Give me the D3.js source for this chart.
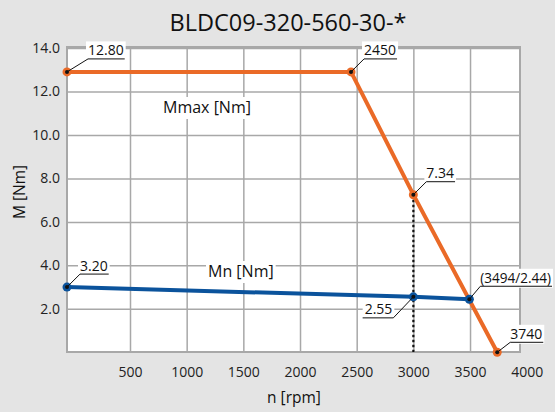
<!DOCTYPE html>
<html>
<head>
<meta charset="utf-8">
<script src="https://cdn.jsdelivr.net/npm/d3@7"></script>
<style>
  body { margin: 0; background: #e4e4e4; }
  svg { display: block; font-family: "Open Sans", sans-serif; }
</style>
</head>
<body>
<script>
// chart values
const xTicks = [500, 1000, 1500, 2000, 2500, 3000, 3500, 4000];
const yTicks = [2, 4, 6, 8, 10, 12, 14];

const mmaxSpeed = [0, 2450, 3000, 3740];
const mmaxTorque = [12.9, 12.9, 7.25, 0];
const mnSpeed = [0, 3000, 3494];
const mnTorque = [3.0, 2.55, 2.44];

// point labels
const labelText = ["12.80", "2450", "7.34", "3.20", "2.55", "(3494/2.44)", "3740"];
const labelSpeed = [0, 2450, 3000, 0, 3000, 3494, 3740];
const labelTorque = [12.9, 12.9, 7.25, 3.0, 2.55, 2.44, 0];
const labelDir = ["up", "up", "up", "up", "down", "up", "up"];

const width = 555, height = 412;
const plot = { left: 67, right: 520, top: 47, bottom: 352 };

const svg = d3.select("body").append("svg")
  .attr("width", width)
  .attr("height", height);

const x = d3.scaleLinear()
  .domain([0, 500, 4000])
  .range([plot.left, 130, 526.7]);

const y = d3.scaleLinear()
  .domain([0, 14])
  .range([352.3, 48]);

// plot area
svg.append("rect")
  .attr("x", plot.left).attr("y", plot.top)
  .attr("width", plot.right - plot.left)
  .attr("height", plot.bottom - plot.top)
  .attr("fill", "#fff");

// y axis + horizontal grid
const yAxis = d3.axisLeft(y)
  .tickValues(yTicks)
  .tickFormat(d3.format(".1f"))
  .tickSizeInner(-(plot.right - plot.left))
  .tickSizeOuter(0)
  .tickPadding(7);
const gy = svg.append("g")
  .attr("transform", `translate(${plot.left},0)`)
  .call(yAxis);
gy.select(".domain").remove();
gy.selectAll(".tick line").attr("stroke", "#a8a8a8").attr("stroke-width", 1.5);
gy.selectAll(".tick text").attr("font-size", 14).attr("fill", "#222")
  .attr("font-family", "Open Sans, sans-serif");

// x axis + vertical grid
const xAxis = d3.axisBottom(x)
  .tickValues(xTicks)
  .tickFormat(d3.format("d"))
  .tickSizeInner(-(plot.bottom - plot.top))
  .tickSizeOuter(0)
  .tickPadding(15);
const gx = svg.append("g")
  .attr("transform", `translate(0,${plot.bottom})`)
  .call(xAxis);
gx.select(".domain").remove();
gx.selectAll(".tick line")
  .attr("stroke", "#a8a8a8").attr("stroke-width", 1.5)
  .attr("display", d => x(d) > plot.right ? "none" : null);
gx.selectAll(".tick text").attr("font-size", 14).attr("fill", "#222")
  .attr("font-family", "Open Sans, sans-serif");

// plot border
svg.append("rect")
  .attr("x", plot.left).attr("y", plot.top)
  .attr("width", plot.right - plot.left)
  .attr("height", plot.bottom - plot.top)
  .attr("fill", "none")
  .attr("stroke", "#a8a8a8")
  .attr("stroke-width", 2);

// dotted line at 3000 rpm
svg.append("line")
  .attr("x1", x(3000)).attr("x2", x(3000))
  .attr("y1", y(mmaxTorque[2])).attr("y2", plot.bottom)
  .attr("stroke", "#111")
  .attr("stroke-width", 2.2)
  .attr("stroke-dasharray", "2.5,2.5");

const line = d3.line().x(d => x(d[0])).y(d => y(d[1]));
const series = [
  { pts: d3.zip(mmaxSpeed, mmaxTorque), color: "#ea6a27" },
  { pts: d3.zip(mnSpeed, mnTorque), color: "#0b539c" }
];

series.forEach(s => {
  svg.append("path")
    .attr("d", line(s.pts))
    .attr("fill", "none")
    .attr("stroke", s.color)
    .attr("stroke-width", 4)
    .attr("stroke-linejoin", "round");
  svg.selectAll(null)
    .data(s.pts)
    .enter().append("circle")
    .attr("cx", d => x(d[0]))
    .attr("cy", d => y(d[1]))
    .attr("r", 4.5)
    .attr("fill", s.color);
});

// text with white background, squeezed if wider than maxW
function boxedText(g, tx, ty, str, size, anchor, maxW) {
  const t = g.append("text")
    .attr("x", tx).attr("y", ty)
    .attr("font-size", size)
    .attr("fill", "#111")
    .attr("text-anchor", anchor || "start")
    .text(str);
  if (maxW && t.node().getComputedTextLength() > maxW) {
    t.attr("textLength", maxW).attr("lengthAdjust", "spacingAndGlyphs");
  }
  const b = t.node().getBBox();
  g.insert("rect", () => t.node())
    .attr("x", b.x - 2).attr("y", b.y + 1)
    .attr("width", b.width + 4).attr("height", b.height)
    .attr("fill", "#fff");
  return t;
}

// point annotations
const annot = svg.append("g");
labelText.forEach((str, i) => {
  const px = x(labelSpeed[i]), py = y(labelTorque[i]);
  const g = annot.append("g");
  let ex, ey, ux1, ux2;
  if (labelDir[i] === "up") {
    ex = px + (i === 0 ? 21 : (i === 5 ? 11 : 13)); ey = py - (i === 6 ? 10 : 13);
    const t = boxedText(g, ex, ey - 3.5, str, 14, "start", 551 - ex);
    const w = t.node().getBBox().width;
    ux1 = ex; ux2 = ex + w + 1;
  } else {
    ex = px - 20; ey = py + 21;
    const t = boxedText(g, ex - 1, ey - 3.5, str, 14, "end");
    const w = t.node().getBBox().width;
    ux1 = ex - w - 3; ux2 = ex;
  }
  g.append("line")
    .attr("x1", px).attr("y1", py).attr("x2", ex).attr("y2", ey)
    .attr("stroke", "#111").attr("stroke-width", 1);
  g.append("line")
    .attr("x1", ux1).attr("x2", ux2).attr("y1", ey).attr("y2", ey)
    .attr("stroke", "#111").attr("stroke-width", 1);
  g.append("circle")
    .attr("cx", px).attr("cy", py).attr("r", 2)
    .attr("fill", "#111");
});

// series names
boxedText(svg, 163, 113, "Mmax [Nm]", 16);
boxedText(svg, 208, 277, "Mn [Nm]", 16);

// titles
svg.append("text")
  .attr("x", 288).attr("y", 31)
  .attr("text-anchor", "middle")
  .attr("font-size", 23.5)
  .attr("fill", "#111")
  .text("BLDC09-320-560-30-*");

svg.append("text")
  .attr("x", 294).attr("y", 403)
  .attr("text-anchor", "middle")
  .attr("font-size", 15.5)
  .attr("fill", "#111")
  .text("n [rpm]");

svg.append("text")
  .attr("transform", "translate(25,192) rotate(-90)")
  .attr("text-anchor", "middle")
  .attr("font-size", 15.5)
  .attr("fill", "#111")
  .text("M [Nm]");
</script>
</body>
</html>
